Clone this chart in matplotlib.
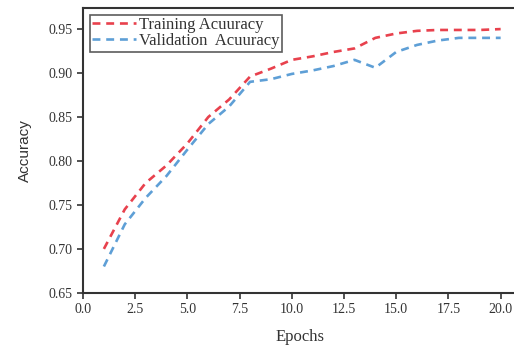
import matplotlib
matplotlib.use("Agg")
import matplotlib.pyplot as plt

epochs = list(range(1, 21))
train_acc = [0.700, 0.745, 0.775, 0.795, 0.820, 0.850, 0.870, 0.896, 0.905, 0.915,
             0.919, 0.924, 0.928, 0.940, 0.945, 0.948, 0.949, 0.949, 0.949, 0.950]
val_acc = [0.680, 0.728, 0.758, 0.783, 0.813, 0.842, 0.862, 0.890, 0.893, 0.899,
           0.903, 0.908, 0.915, 0.906, 0.924, 0.932, 0.937, 0.940, 0.940, 0.940]
xticks = [0.0, 2.5, 5.0, 7.5, 10.0, 12.5, 15.0, 17.5, 20.0]
yticks = [0.65, 0.70, 0.75, 0.80, 0.85, 0.90, 0.95]

serif = ["Liberation Serif", "DejaVu Serif"]

fig = plt.figure(figsize=(5.14, 3.47), dpi=100)
ax = fig.add_axes([0.1615, 0.156, 0.845, 0.821])

ax.plot(epochs, train_acc, color="#e8414d", lw=1.9, dashes=(3, 2.2), label="Training Acuuracy")
ax.plot(epochs, val_acc, color="#5e9fd6", lw=1.9, dashes=(3, 2.2), label="Validation  Acuuracy")

ax.set_xlim(0, 20.8)
ax.set_ylim(0.65, 0.974)
ax.set_xticks(xticks)
ax.set_yticks(yticks)
ax.set_xticklabels([f"{v:.1f}" for v in xticks], family=serif, fontsize=10, color="#333333")
ax.set_yticklabels([f"{v:.2f}" for v in yticks], family=serif, fontsize=10, color="#333333")
ax.tick_params(direction="out", length=4, width=1.2, colors="#333333", labelcolor="#333333")

for s in ax.spines.values():
    s.set_linewidth(1.5)
    s.set_color("#333333")

ax.set_xlabel("Epochs", family=serif, fontsize=12, color="#333333", labelpad=9)
ax.set_ylabel("Accuracy", family=["Liberation Sans Narrow", "Liberation Sans", "DejaVu Sans"],
              fontsize=11, color="#333333", labelpad=12)

leg = ax.legend(loc="upper left", prop={"family": serif, "size": 12}, frameon=True,
                fancybox=False, edgecolor="#333333", handlelength=2.6, handletextpad=0.2,
                borderpad=0.15, labelspacing=0.0, borderaxespad=0.4)
leg.get_frame().set_linewidth(1.2)
for t in leg.get_texts():
    t.set_color("#333333")

fig.savefig("out.png", dpi=100)
